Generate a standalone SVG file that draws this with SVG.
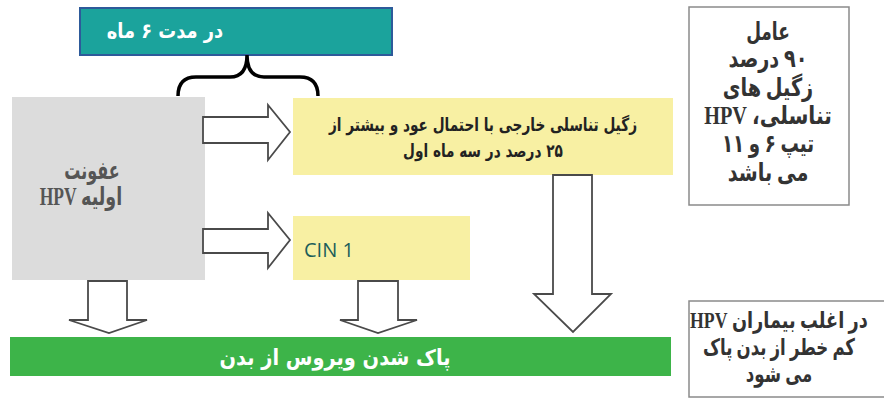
<svg xmlns="http://www.w3.org/2000/svg" width="884" height="403" viewBox="0 0 884 403">
<style>
.fa{font-family:"DejaVu Sans",sans-serif;font-weight:bold;direction:rtl;text-anchor:middle}
.nz{font-family:"Liberation Serif","DejaVu Sans",serif;font-weight:bold;direction:rtl;text-anchor:middle;fill:#333333}
.arr{fill:#ffffff;stroke:#4a4a4a;stroke-width:1.8;stroke-linejoin:miter}
.note{fill:#ffffff;stroke:#8a8a8a;stroke-width:1.5}
.yel{fill:#f8f0a3}
</style>
<rect width="884" height="403" fill="#ffffff"/>
<g id="period">
<rect x="80" y="8" width="312" height="47" fill="#1ba39c" stroke="#2d5a9a" stroke-width="2"/>
<text class="fa" transform="translate(165,38) scale(0.85,1)" font-size="21" fill="#ffffff">در مدت ۶ ماه</text>
</g>
<g id="brace">
<path d="M178,96 Q178,77 196,77 L230,77 Q247,77 247,55 Q247,77 264,77 L300,77 Q318,77 318,96" fill="none" stroke="#000000" stroke-width="3.5"/>
</g>
<g id="infection">
<rect x="12" y="97" width="193" height="183" fill="#dcdcdc"/>
<text class="nz" transform="translate(92,179) scale(0.64,1)" font-size="25" style="fill:#555555">عفونت</text>
<text class="nz" transform="translate(81,205) scale(0.7,1)" font-size="25" style="fill:#555555">اولیه HPV</text>
</g>
<g id="warts">
<rect class="yel" x="293" y="98" width="380" height="77"/>
<text class="fa" transform="translate(483,131) scale(0.76,1)" font-size="18" fill="#222222">زگیل تناسلی خارجی با احتمال عود و بیشتر از</text>
<text class="fa" transform="translate(483,157) scale(0.76,1)" font-size="18" fill="#222222">۲۵ درصد در سه ماه اول</text>
</g>
<g id="cin1">
<rect class="yel" x="293" y="216" width="177" height="64"/>
<text x="304" y="257" font-family="Open Sans, Liberation Sans, sans-serif" font-size="20" fill="#1d5e5a">CIN 1</text>
</g>
<g id="clearance">
<rect x="10" y="337" width="661" height="39" fill="#3db449"/>
<text class="fa" transform="translate(335,365) scale(0.88,1)" font-size="22" fill="#ffffff">پاک شدن ویروس از بدن</text>
</g>
<g id="note1">
<rect class="note" x="689" y="7" width="160" height="198"/>
<text class="nz" transform="translate(768,40) scale(0.68,1)" font-size="25">عامل</text>
<text class="nz" transform="translate(768,67) scale(0.77,1)" font-size="25">۹۰ درصد</text>
<text class="nz" transform="translate(768,96) scale(0.77,1)" font-size="25">زگیل های</text>
<text class="nz" transform="translate(768,124) scale(0.81,1)" font-size="25">تناسلی، HPV</text>
<text class="nz" transform="translate(768,152) scale(0.73,1)" font-size="25">تیپ ۶ و ۱۱</text>
<text class="nz" transform="translate(768,181) scale(0.77,1)" font-size="25">می باشد</text>
</g>
<g id="note2">
<rect class="note" x="689" y="301" width="205" height="96"/>
<text class="nz" transform="translate(779,328) scale(0.77,1)" font-size="23">در اغلب بیماران HPV</text>
<text class="nz" transform="translate(779,355) scale(0.72,1)" font-size="23">کم خطر از بدن پاک</text>
<text class="nz" transform="translate(779,382) scale(0.72,1)" font-size="23">می شود</text>
</g>
<g id="connectors">
<polygon class="arr" points="203,117 268,117 268,105 290,132 268,160 268,143 203,143"/>
<polygon class="arr" points="203,229 268,229 268,213 290,240 268,268 268,253 203,253"/>
<polygon class="arr" points="88,281 127,281 127,320 147,320 109,333 69,320 88,320"/>
<polygon class="arr" points="358,281 398,281 398,320 417,320 378,333 340,320 358,320"/>
<polygon class="arr" points="553,175 592,175 592,294 611,294 573,332 534,294 553,294"/>
</g>
</svg>
